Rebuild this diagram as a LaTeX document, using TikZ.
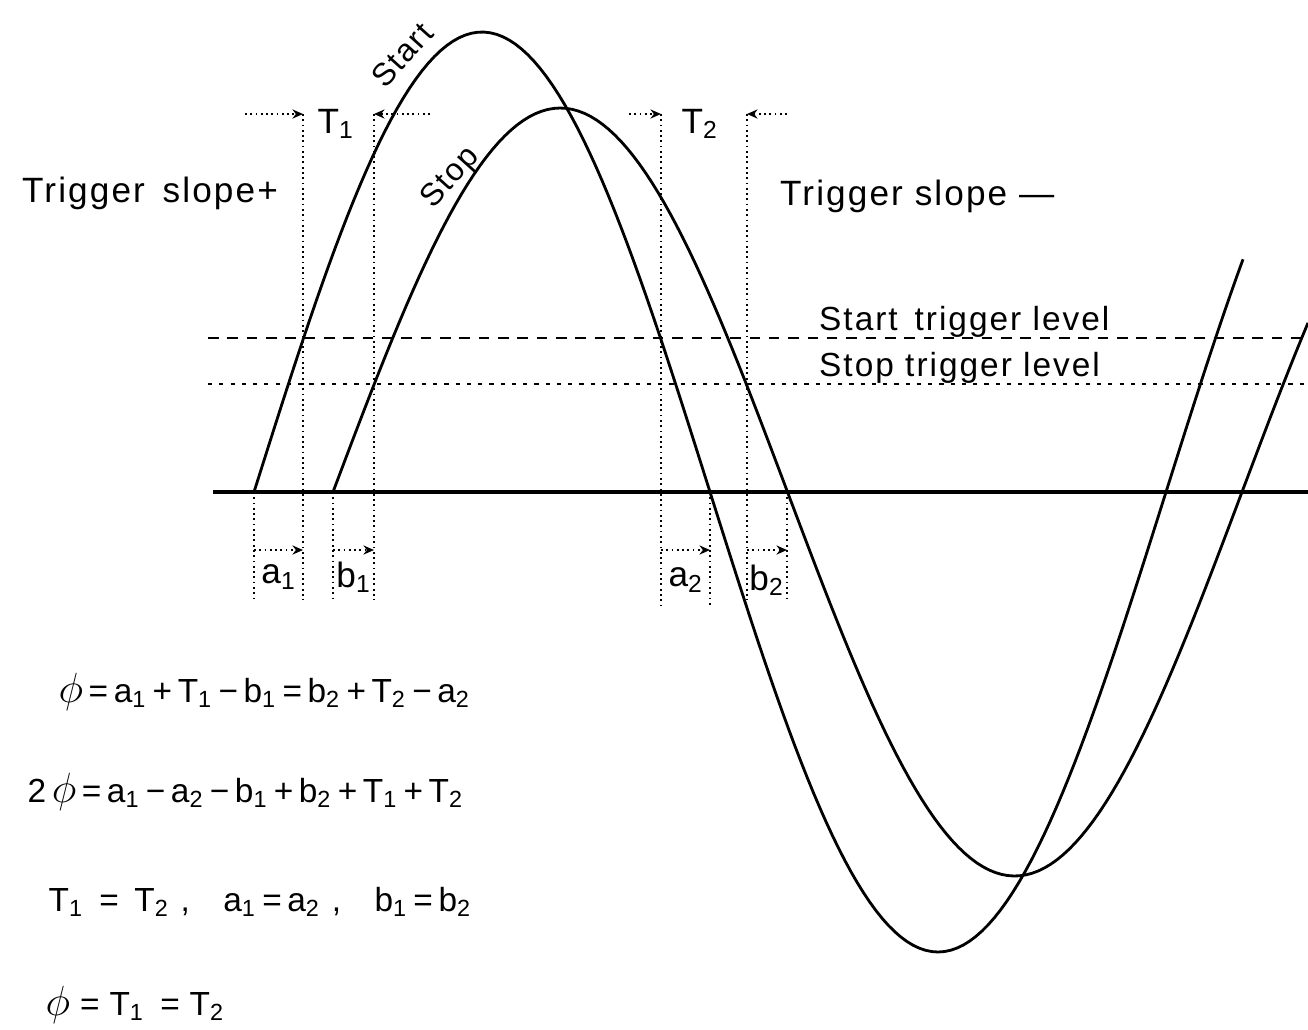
\documentclass[tikz,border=0pt]{standalone}
\usepackage{fontspec}
\setmainfont{Liberation Sans}[LetterSpace=6]
\newfontfamily\eqfont{Liberation Sans}[LetterSpace=2]
\usetikzlibrary{arrows.meta}
\newcommand{\lsub}[1]{\textsubscript{#1}}
\newcommand{\phisym}{{\large$\phi$}}
\tikzset{
  wave/.style={line width=0.8pt, line join=round},
  axisline/.style={line width=1pt},
  guide/.style={densely dotted, line width=0.5pt},
  startlvl/.style={dash pattern=on 3pt off 2.5pt, line width=0.6pt},
  stoplvl/.style={dash pattern=on 1.2pt off 2pt, line width=0.6pt},
  dimarrow/.style={densely dotted, line width=0.5pt, -{Stealth[length=3pt,width=2.6pt]}},
  lbl/.style={font=\fontsize{10}{12}\selectfont, inner sep=1pt},
  wavelbl/.style={font=\fontsize{9}{10}\selectfont, inner sep=0pt, rotate=48},
  lvllbl/.style={font=\fontsize{9.5}{11}\selectfont, inner sep=1pt, anchor=west},
  eqn/.style={font=\eqfont\fontsize{9.5}{11}\selectfont, anchor=west, inner sep=0pt}
}

\begin{document}
\begin{tikzpicture}[x=0.01cm, y=-0.01cm]
  \useasboundingbox (0,0) rectangle (1308,1029);

  % Axis and trigger levels
  \coordinate (axl) at (213,492);
  \coordinate (axr) at (1308,492);
  \coordinate (stal) at (208,338);
  \coordinate (star) at (1308,338);
  \coordinate (stol) at (208,384);
  \coordinate (stor) at (1308,384);
  \draw[axisline] (axl) -- (axr);
  \draw[startlvl] (stal) -- (star);
  \draw[stoplvl] (stol) -- (stor);

  % Start and stop waves
  \draw[wave] plot[domain=254:1243, samples=160] (\x, {492-460*sin((\x-254)/912*360)});
  \draw[wave] plot[domain=333:1308, samples=160] (\x, {492-384*sin((\x-333)/909*360)});

  % Wave labels
  \node[wavelbl] (start) at (402,55) {Start};
  \node[wavelbl] (stop) at (451,178) {Stop};

  % T1 and T2
  \coordinate (t1a) at (303,114);
  \coordinate (t1b) at (374,114);
  \coordinate (t1l) at (245,114);
  \coordinate (t1r) at (430,114);
  \coordinate (t2a) at (661,114);
  \coordinate (t2b) at (747,114);
  \coordinate (t2l) at (629,114);
  \coordinate (t2r) at (787,114);
  \draw[dimarrow] (t1l) -- (t1a);
  \draw[dimarrow] (t1r) -- (t1b);
  \draw[dimarrow] (t2l) -- (t2a);
  \draw[dimarrow] (t2r) -- (t2b);
  \node[lbl] (t1) at (336,124) {T\lsub{1}};
  \node[lbl] (t2) at (700,124) {T\lsub{2}};

  % Vertical guides
  \coordinate (a1l) at (254,492);
  \coordinate (b1l) at (333,492);
  \coordinate (a2r) at (710,492);
  \coordinate (b2r) at (787,492);
  \draw[guide] (t1a) -- (303,600);
  \draw[guide] (t1b) -- (374,600);
  \draw[guide] (t2a) -- (661,608);
  \draw[guide] (t2b) -- (747,600);
  \draw[guide] (a1l) -- (254,598);
  \draw[guide] (b1l) -- (333,598);
  \draw[guide] (a2r) -- (710,608);
  \draw[guide] (b2r) -- (787,600);

  % a and b intervals
  \draw[dimarrow] (254,550) -- (303,550);
  \draw[dimarrow] (333,550) -- (374,550);
  \draw[dimarrow] (661,550) -- (710,550);
  \draw[dimarrow] (747,550) -- (787,550);
  \node[lbl] (la1) at (279,577) {a\lsub{1}};
  \node[lbl] (lb1) at (354,577) {b\lsub{1}};
  \node[lbl] (la2) at (686,580) {a\lsub{2}};
  \node[lbl] (lb2) at (767,580) {b\lsub{2}};

  % Slope and level texts
  \node[lbl, anchor=west] (slopep) at (18,193) {Trigger\, slope+};
  \node[lbl, anchor=west] (slopem) at (776,196) {Trigger slope —};
  \node[lvllbl] (lvlstart) at (815,322) {Start\, trigger level};
  \node[lvllbl] (lvlstop) at (815,368) {Stop trigger level};

  % Equations
  \node[eqn] (eq1) at (58,692) {\phisym\,=\,a\lsub{1}\,+\,T\lsub{1}\,−\,b\lsub{1}\,=\,b\lsub{2}\,+\,T\lsub{2}\,−\,a\lsub{2}};
  \node[eqn] (eq2) at (27,792) {2\,\phisym\,=\,a\lsub{1}\,−\,a\lsub{2}\,−\,b\lsub{1}\,+\,b\lsub{2}\,+\,T\lsub{1}\,+\,T\lsub{2}};
  \node[eqn] (eq3) at (48,902) {T\lsub{1} \,=\, T\lsub{2}\,\,,\quad a\lsub{1}\,=\,a\lsub{2}\,\,,\quad b\lsub{1}\,=\,b\lsub{2}};
  \node[eqn] (eq4) at (45,1005) {\phisym\ = T\lsub{1} \,= T\lsub{2}};
\end{tikzpicture}
\end{document}
